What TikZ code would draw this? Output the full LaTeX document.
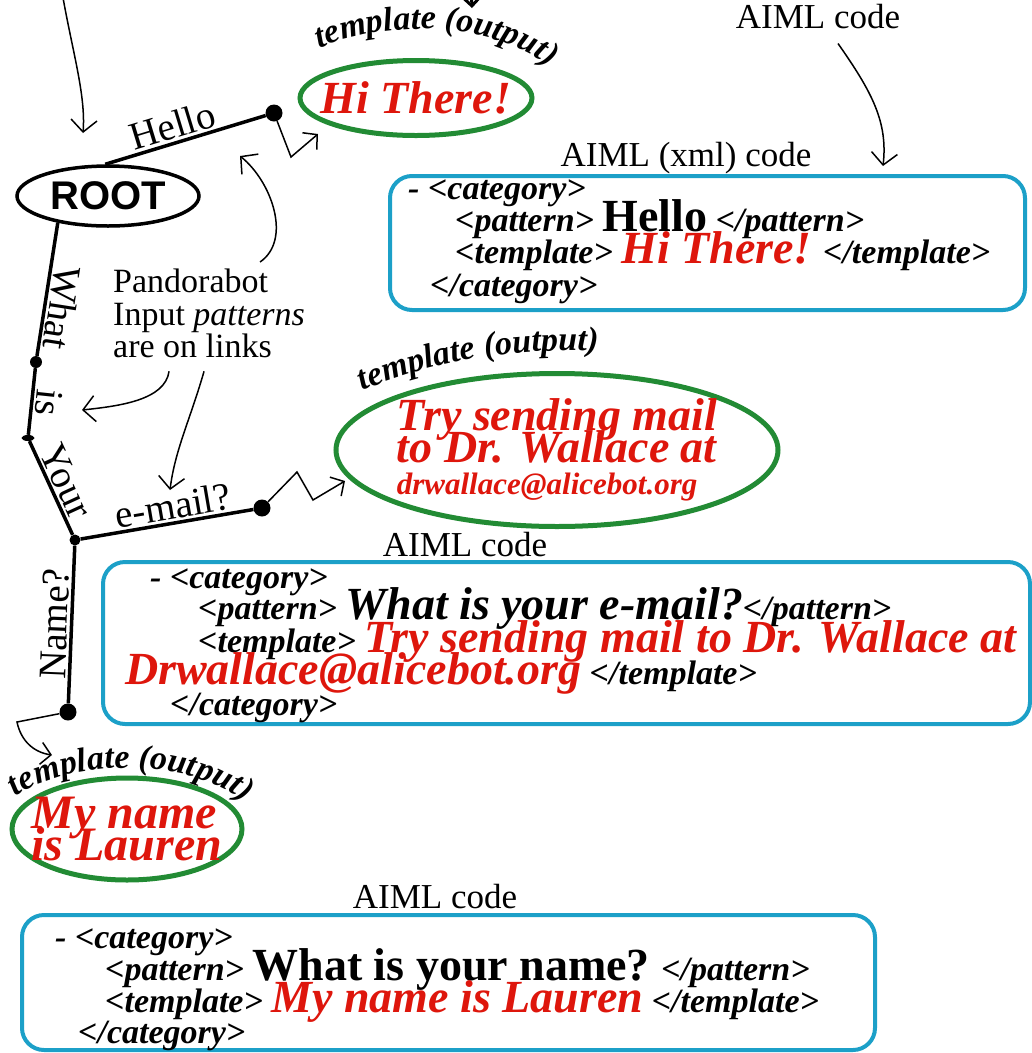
\documentclass[tikz,border=0pt]{standalone}
\usepackage{fontspec}
\setmainfont{Liberation Serif}
\newfontfamily\rootfont{Liberation Sans}
\usepackage{tikz}
\usetikzlibrary{arrows.meta,shapes.geometric,positioning,decorations.text}
\definecolor{aimlgreen}{RGB}{34,139,52}
\definecolor{aimlred}{RGB}{222,22,12}
\definecolor{aimlcyan}{RGB}{28,160,200}
\tikzstyle{pointer} = [line width=1.5pt,-{Straight Barb[length=12pt,width=26pt]}]
\newcommand\codefont{\fontsize{34}{34}\selectfont\bfseries\itshape}
\newcommand\bigpat[1]{{\fontsize{46}{46}\selectfont\bfseries\upshape #1}}
\newcommand\bigreply[1]{{\color{aimlred}\fontsize{46}{46}\selectfont\bfseries\itshape #1}}
\newcommand\tplfont{\fontsize{34}{34}\selectfont\bfseries\itshape}

\begin{document}
\begin{tikzpicture}[
    x=1pt, y=-1pt,
    link/.style={line width=3.5pt},
    dot/.style={circle, fill, inner sep=0pt, minimum size=17pt},
    tick/.style={ellipse, fill, inner sep=0pt, minimum width=13pt, minimum height=6pt},
    edgelbl/.style={font=\fontsize{39}{39}\selectfont, inner sep=2pt},
    outbox/.style={ellipse, draw=aimlgreen, line width=5pt, inner sep=0pt},
    reply/.style={text=aimlred, align=left, inner sep=0pt, font={\fontsize{46}{32}\selectfont\bfseries\itshape\lineskiplimit=-100pt}},
    codebox/.style={rectangle, rounded corners=22pt, draw=aimlcyan, line width=4pt},
    codeline/.style={anchor=base west, inner sep=0pt, font=\codefont},
    note/.style={font=\fontsize{35}{35}\selectfont, inner sep=0pt},
    zap/.style={line width=1.5pt, -{Straight Barb[length=10pt,width=22pt]}},
    tpl/.style={decorate, decoration={text along path, text align=center, text={|\tplfont|template (output)}}}
]
\fill[white] (0,0) rectangle (1032,1053);
\useasboundingbox (0,0) rectangle (1032,1053);

% Tree
\node (root) [ellipse, draw, line width=3.5pt, minimum width=182pt, minimum height=60pt, inner sep=2pt, font=\rootfont\bfseries\fontsize{40}{40}\selectfont] at (108,196) {ROOT};
\node (hellodot) [dot] at (274,113) {};
\node (whatdot) [dot, minimum size=12pt] at (36,362) {};
\node (isdot) [tick] at (28,438) {};
\node (yourdot) [dot, minimum size=11pt] at (75,540) {};
\node (emaildot) [dot] at (262,508) {};
\node (namedot) [dot] at (68,712) {};

\draw[link] (root.95) -- node[edgelbl, sloped, above, pos=0.45] {Hello} (hellodot);
\draw[link] (root.208) -- node[edgelbl, sloped, above, allow upside down, pos=0.62] {What} (whatdot);
\draw[link] (whatdot) -- node[edgelbl, sloped, above, allow upside down] {is} (isdot);
\draw[link] (isdot) -- node[edgelbl, sloped, above] {Your} (yourdot);
\draw[link] (yourdot) -- node[edgelbl, sloped, above, pos=0.55] {e-mail?} (emaildot);
\draw[link] (yourdot) -- node[edgelbl, sloped, above] {Name?} (namedot);

% Outputs
\node (hithere) [outbox, minimum width=232pt, minimum height=75pt, label={[reply]center:Hi There!}] at (416,98) {};
\node (mailreply) [outbox, minimum width=442pt, minimum height=153pt, label={[reply]center:{Try sending mail\\to Dr. Wallace at\\{\fontsize{31}{32}\selectfont drwallace@alicebot.org}}}] at (557,450) {};
\node (namereply) [outbox, minimum width=230pt, minimum height=102pt, label={[reply, font={\fontsize{48}{32}\selectfont\bfseries\itshape\lineskiplimit=-100pt}]center:{My name\\is Lauren}}] at (127,829) {};

\path[tpl] (304,55) .. controls (380,17) and (500,17) .. (562,78);
\path[tpl] (350,397) .. controls (420,362) and (520,345) .. (612,352);
\path[tpl] (2,810) .. controls (45,756) and (205,750) .. (258,816);

% Zigzags to the outputs
\coordinate (hitip) at (318,134);
\coordinate (mailtip) at (345,481);
\coordinate (nametip) at (52,755);
\draw[zap] (hellodot) -- (291,157) -- (hitip);
\draw[zap] (emaildot) -- (297,472) -- (313,500) -- (mailtip);
\draw[zap] (namedot) -- (17,722) to[bend right=35] (nametip);

% AIML boxes
\node (xmlbox) [codebox, minimum width=635pt, minimum height=134pt] at (707.5,243) {};
\node (xmlcat) [codeline] at (408,199) {-\ <category>};
\node (xmlpat) [codeline] at (455,231) {<pattern> \bigpat{Hello} </pattern>};
\node (xmltpl) [codeline] at (455,263) {<template> \bigreply{Hi There!} </template>};
\node (xmlend) [codeline] at (430,296) {</category>};

\node (mailbox) [codebox, minimum width=927pt, minimum height=162pt] at (566.5,643) {};
\node (mailcat) [codeline] at (150,588) {-\ <category>};
\node (mailpat) [codeline] at (198,619) {<pattern> {\fontsize{46}{46}\selectfont What is your e-mail?}</pattern>};
\node (mailtpl) [codeline] at (198,652) {<template> \bigreply{Try sending mail to Dr. Wallace at}};
\node (mailadr) [codeline] at (125,684) {\bigreply{Drwallace@alicebot.org} </template>};
\node (mailend) [codeline] at (170,715) {</category>};

\node (namebox) [codebox, minimum width=853pt, minimum height=135pt] at (448.5,982.5) {};
\node (namecat) [codeline] at (55,948) {-\ <category>};
\node (namepat) [codeline] at (105,980) {<pattern> \bigpat{What is your name?} </pattern>};
\node (nametpl) [codeline] at (105,1012) {<template> \bigreply{My name is Lauren} </template>};
\node (nameend) [codeline] at (78,1043) {</category>};

% Labels
\node (toplbl) [note] at (818,17) {AIML code};
\node (xmllbl) [note] at (686,158) {AIML (xml) code};
\node (maillbl) [note] at (465,545) {AIML code};
\node (namelbl) [note] at (435,897) {AIML code};
\node (pando) [note, align=left, anchor=north west, font={\fontsize{34}{32.5}\selectfont}] at (113,269) {Pandorabot\\Input \textit{patterns}\\are on links};

% Pointers
\coordinate (inpt) at (62,-8);
\coordinate (rootpt) at (83,133);
\coordinate (topin) at (470,-40);
\coordinate (toppt) at (472,8);
\coordinate (hellopt) at (240,156);
\coordinate (ispt) at (82,410);
\coordinate (emailpt) at (170,490);
\coordinate (xmlpt) at (883,166);
\draw[pointer] (inpt) .. controls (72,50) and (86,95) .. (rootpt);
\draw[line width=3pt, -{Straight Barb[length=8pt,width=16pt]}] (topin) -- (toppt);
\draw[pointer] ([shift={(20,14)}]toplbl.south) .. controls (872,92) and (888,122) .. (xmlpt);
\draw[pointer] ([shift={(51,-7)}]pando.north) .. controls (292,240) and (272,182) .. (hellopt);
\draw[pointer] ([shift={(-40,13)}]pando.south) .. controls (165,400) and (120,406) .. (ispt);
\draw[pointer] ([shift={(-5,13)}]pando.south) .. controls (190,420) and (175,450) .. (emailpt);
\end{tikzpicture}
\end{document}
